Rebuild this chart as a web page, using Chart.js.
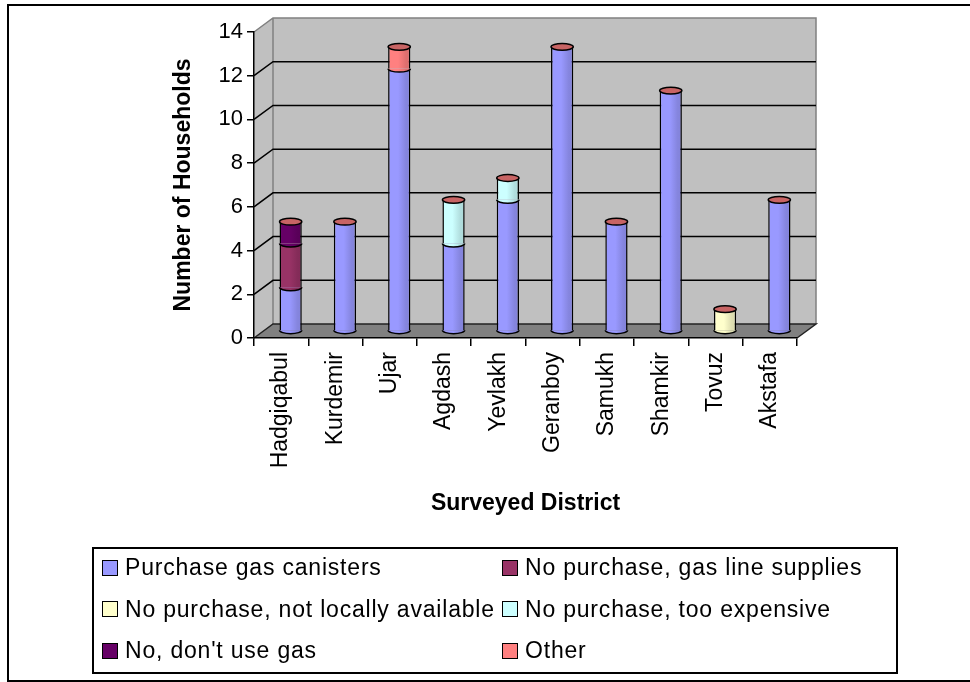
<!DOCTYPE html>
<html>
<head>
<meta charset="utf-8">
<script src="https://cdn.jsdelivr.net/npm/chart.js@4.4.1/dist/chart.umd.min.js"></script>
<style>
  html, body { margin: 0; padding: 0; background: #fff; overflow: hidden; }
  #wrap { position: relative; width: 970px; height: 682px; }
  #frame { position: absolute; left: 7px; top: 4px; width: 990px; height: 674px; border: 2px solid #000; border-right: none; }
  canvas { position: absolute; left: 0; top: 0; }
  #legend { position: absolute; left: 92px; top: 547px; width: 802px; height: 123px; border: 2px solid #000;
            font-family: "Liberation Sans", Arial, sans-serif; font-size: 23px; letter-spacing: 0.8px; color: #000; }
  .item { position: absolute; height: 30px; display: flex; align-items: center; white-space: nowrap; }
  .sw { width: 14px; height: 14px; border: 1.5px solid #000; margin-right: 7px; flex: none; }
</style>
</head>
<body>
<div id="wrap">
  <div id="frame"></div>
  <canvas id="chart" width="970" height="682"></canvas>
  <div id="legend"></div>
</div>
<script>
const districts = ["Hadgiqabul", "Kurdemir", "Ujar", "Agdash", "Yevlakh", "Geranboy", "Samukh", "Shamkir", "Tovuz", "Akstafa"];

const purchaseCanisters   = [2, 5, 12, 4, 6, 13, 5, 11, 0, 6];
const gasLineSupplies     = [2, 0, 0, 0, 0, 0, 0, 0, 0, 0];
const notLocallyAvailable = [0, 0, 0, 0, 0, 0, 0, 0, 1, 0];
const tooExpensive        = [0, 0, 0, 2, 1, 0, 0, 0, 0, 0];
const dontUseGas          = [1, 0, 0, 0, 0, 0, 0, 0, 0, 0];
const otherReason         = [0, 0, 1, 0, 0, 0, 0, 0, 0, 0];

const seriesNames = ["Purchase gas canisters", "No purchase, gas line supplies", "No purchase, not locally available",
                     "No purchase, too expensive", "No, don't use gas", "Other"];
const seriesData = [purchaseCanisters, gasLineSupplies, notLocallyAvailable, tooExpensive, dontUseGas, otherReason];
const seriesColors = ["#9999ff", "#993366", "#ffffcc", "#ccffff", "#660066", "#ff8080"];

const yMax = 14;
const yStep = 2;

const FONT = "'Liberation Sans', Arial, sans-serif";
const DEPTH_X = 19, DEPTH_Y = -14;   // 3D depth offset of the back wall
const CAP_COLOR = "#c86464";
const BAR_PCT = 0.41;

function shade(hex, f) {
    const n = parseInt(hex.slice(1), 16);
    const r = Math.round(((n >> 16) & 255) * f);
    const g = Math.round(((n >> 8) & 255) * f);
    const b = Math.round((n & 255) * f);
    return `rgb(${r},${g},${b})`;
}

function cylGradient(ctx, cx, w, color) {
    if (!isFinite(cx) || !isFinite(w)) return color;
    const g = ctx.createLinearGradient(cx - w / 2, 0, cx + w / 2, 0);
    g.addColorStop(0, color);
    g.addColorStop(0.45, color);
    g.addColorStop(0.8, shade(color, 0.87));
    g.addColorStop(1, shade(color, 0.85));
    return g;
}

// walls, floor and back gridlines
const walls = {
    id: "walls",
    beforeDraw(chart) {
        const { ctx, chartArea: a, scales: { y } } = chart;
        const L = a.left, R = a.right, B = a.bottom, T = a.top;
        ctx.save();
        // left wall
        ctx.fillStyle = "#c0c0c0";
        ctx.beginPath();
        ctx.moveTo(L, T); ctx.lineTo(L + DEPTH_X, T + DEPTH_Y);
        ctx.lineTo(L + DEPTH_X, B + DEPTH_Y); ctx.lineTo(L, B);
        ctx.closePath(); ctx.fill();
        // back wall
        ctx.fillRect(L + DEPTH_X, T + DEPTH_Y, R - L, B - T);
        // floor
        ctx.fillStyle = "#808080";
        ctx.beginPath();
        ctx.moveTo(L, B); ctx.lineTo(R, B);
        ctx.lineTo(R + DEPTH_X, B + DEPTH_Y); ctx.lineTo(L + DEPTH_X, B + DEPTH_Y);
        ctx.closePath(); ctx.fill();

        // wall edges
        ctx.strokeStyle = "#808080";
        ctx.lineWidth = 1.5;
        ctx.beginPath();
        ctx.moveTo(L, T); ctx.lineTo(L + DEPTH_X, T + DEPTH_Y); ctx.lineTo(R + DEPTH_X, T + DEPTH_Y);
        ctx.lineTo(R + DEPTH_X, B + DEPTH_Y);
        ctx.moveTo(L + DEPTH_X, T + DEPTH_Y); ctx.lineTo(L + DEPTH_X, B + DEPTH_Y);
        ctx.stroke();

        // gridlines on left and back walls
        ctx.strokeStyle = "#000";
        ctx.beginPath();
        y.ticks.forEach(t => {
            if (t.value <= y.min || t.value >= y.max) return;
            const py = y.getPixelForValue(t.value);
            ctx.moveTo(L, py); ctx.lineTo(L + DEPTH_X, py + DEPTH_Y); ctx.lineTo(R + DEPTH_X, py + DEPTH_Y);
        });
        ctx.stroke();

        // floor back and right edges
        ctx.strokeStyle = "#222";
        ctx.beginPath();
        ctx.moveTo(L, B); ctx.lineTo(L + DEPTH_X, B + DEPTH_Y); ctx.lineTo(R + DEPTH_X, B + DEPTH_Y); ctx.lineTo(R, B);
        ctx.stroke();
        ctx.restore();
    }
};

// bars sit half way into the depth; shade them and add cylinder ends
const cylinders = {
    id: "cylinders",
    beforeDatasetsDraw(chart) {
        chart.data.datasets.forEach((ds, d) => {
            chart.getDatasetMeta(d).data.forEach(el => {
                const p = el.getProps(["x", "width"], true);
                el.options.backgroundColor = cylGradient(chart.ctx, p.x, p.width, seriesColors[d]);
            });
        });
        chart.ctx.save();
        chart.ctx.translate(DEPTH_X / 2, DEPTH_Y / 2);
    },
    afterDatasetsDraw(chart) {
        const ctx = chart.ctx;
        ctx.lineWidth = 1.5;
        ctx.strokeStyle = "#000";
        chart.data.labels.forEach((lab, i) => {
            const segs = [];
            chart.data.datasets.forEach((ds, d) => {
                if (!ds.data[i]) return;
                const el = chart.getDatasetMeta(d).data[i];
                segs.push({ p: el.getProps(["x", "y", "base", "width"], true), color: seriesColors[d] });
            });
            segs.forEach((s, k) => {
                const { x, y, base, width } = s.p;
                const rx = width / 2, ry = 3.4;
                ctx.beginPath();
                ctx.ellipse(x, base, rx, ry, 0, 0, Math.PI);
                ctx.fillStyle = cylGradient(ctx, x, width, s.color);
                ctx.fill();
                ctx.stroke();
                if (k === segs.length - 1) {
                    ctx.beginPath();
                    ctx.ellipse(x, y, rx, ry, 0, 0, Math.PI * 2);
                    ctx.fillStyle = CAP_COLOR;
                    ctx.fill();
                    ctx.stroke();
                }
            });
        });
        ctx.restore();
    }
};

const datasets = seriesNames.map((name, d) => ({
    label: name,
    data: seriesData[d],
    backgroundColor: () => seriesColors[d],
    borderColor: "#000",
    borderWidth: { left: 1.5, right: 1.5, top: 0, bottom: 0 },
    borderSkipped: false,
    categoryPercentage: 1,
    barPercentage: BAR_PCT
}));

const chart = new Chart(document.getElementById("chart"), {
    type: "bar",
    data: { labels: districts, datasets },
    plugins: [walls, cylinders],
    options: {
        responsive: false,
        animation: false,
        layout: { padding: { left: 0, top: 32, right: 173, bottom: 137 } },
        plugins: { legend: { display: false }, tooltip: { enabled: false } },
        scales: {
            x: {
                stacked: true,
                offset: true,
                grid: { offset: true, drawOnChartArea: false, tickLength: 8, color: "#000", lineWidth: 1.5 },
                border: { color: "#000", width: 1.5 },
                ticks: { autoSkip: false, minRotation: 90, maxRotation: 90, padding: 6, color: "#000",
                         font: { family: FONT, size: 23 } },
                title: { display: true, text: "Surveyed District", color: "#000",
                         font: { family: FONT, size: 23, weight: "bold" }, padding: { top: 0, bottom: 28 } },
                afterFit: s => { s.height = 207; }
            },
            y: {
                stacked: true,
                min: 0,
                max: yMax,
                ticks: { stepSize: yStep, padding: 4, color: "#000", font: { family: FONT, size: 22 } },
                grid: { drawOnChartArea: false, tickLength: 7, color: "#000", lineWidth: 1.5 },
                border: { color: "#000", width: 1.5 },
                title: { display: true, text: "Number of Households", color: "#000",
                         font: { family: FONT, size: 23, weight: "bold" }, padding: { top: 170, bottom: 0 } },
                afterFit: s => { s.width = 254; }
            }
        }
    }
});

// legend in two columns
const legend = document.getElementById("legend");
chart.data.datasets.forEach((ds, d) => {
    const item = document.createElement("div");
    item.className = "item";
    item.style.left = (d % 2 ? 408 : 8) + "px";
    item.style.top = (3.5 + Math.floor(d / 2) * 41.5) + "px";
    const sw = document.createElement("span");
    sw.className = "sw";
    sw.style.background = seriesColors[d];
    const txt = document.createElement("span");
    txt.textContent = ds.label;
    item.appendChild(sw);
    item.appendChild(txt);
    legend.appendChild(item);
});
</script>
</body>
</html>
